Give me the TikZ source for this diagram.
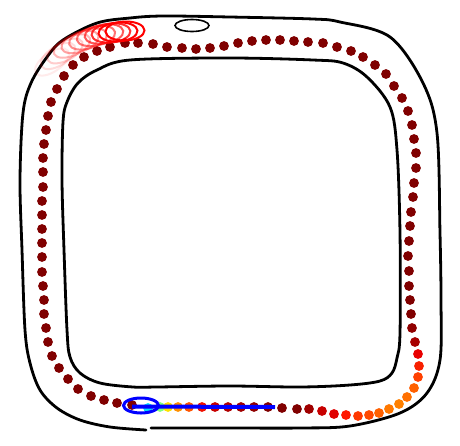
\documentclass[tikz,border=0pt]{standalone}
\usepackage{xcolor}
\definecolor{dr}{HTML}{800000}
\definecolor{blueline}{HTML}{0000FF}
\tikzset{
  track/.style={draw=black,line width=2.8pt,line cap=round,line join=round},
  ghost/.style={draw=red,line width=2pt},
}
\begin{document}
\begin{tikzpicture}[x=1pt,y=-1pt]
\useasboundingbox (0,0) rectangle (460,445);
\fill[white] (0,0) rectangle (460,445);
% outer boundary
\draw[track] plot[smooth,tension=0.55] coordinates {
(151,428) (230,428) (300,428) (350,426) (400,413) (427,393) (440,360) (441,300) (440,233) (437,133) (423,83) (390,37) (340,22) (313,19) (230,17) (163,16) (130,18) (97,23) (63,40) (47,57) (31,83) (23,113) (20,180) (22,250) (25,330) (30,363) (40,390) (57,408) (80,420) (110,427) (146,430)};
% inner boundary
\draw[track] plot[smooth cycle,tension=0.55] coordinates {
(157,387) (230,386) (300,387) (350,385) (380,381) (392,373) (397,358) (400,333) (400,233) (397,150) (390,107) (367,77) (343,63) (313,60) (230,58) (130,60) (97,70) (78,83) (67,102) (63,122) (62,180) (64,250) (67,330) (70,357) (80,373) (100,383) (133,387)};
% small ellipse at top
\draw[black,line width=1.6pt] (192,25.5) ellipse (17 and 6);
% dots, dark red
\foreach \x/\y in {
411/314,410/300,409/286,409/271,408/256,409/241,410/226,411/212,413/197,414/183,416/168,416/153,414/139,412/125,408/111,402/98,394/86,386/74,375/65,363/57,351/51,
337/47,323/43,308/42,294/41,280/40,266/40,252/41,238/43,224/46,210/48,196/49,182/48,167/47,153/44,138/43,125/43,110/47,97/51,84/57,73/65,64/76,57/89,51/102,48/116,46/130,44/144,43/158,43/172,43/187,42/201,42/215,42/229,42/243,42/257,42/272,43/286,44/300,44/314,46/328,48/342,52/356,59/368,68/379,78/389,91/396,104/400,117/403,132/405,
268/407,282/408,297/409}
  \fill[dr] (\x,\y) circle (4.9);
% coloured dots
\foreach \x/\y/\c in {
148/408/00E0FF,160/407/80FF80,168/407/FFE000,178/407/FF9000,189/407/FF5500,202/407/F01000,215/407/C80000,228/407/B00000,241/407/A00000,254/407/900000,
309/409/A00000,322/411/C80000,334/414/E00000,346/415/FF1800,358/416/FF3800,369/415/FF4800,379/413/FF6000,389/409/FF7800,399/404/FF8000,407/397/FF7000,414/388/FF6000,418/377/FF4000,419/366/F82000,418/354/E80000,415/342/A80000,412/328/900000}
  {\definecolor{tmpc}{HTML}{\c}\fill[tmpc] (\x,\y) circle (4.9);}
% fading red ellipses
\foreach \x/\y/\a/\o in {
52/62/35/0.08,58/56/32/0.14,65/51/28/0.2,72/46/24/0.28,80/42/20/0.36,88/39/16/0.45,96/36/12/0.55,104/34/9/0.65,111/33/6/0.8,118/32/4/1,125/31/2/1}
  \draw[ghost,draw opacity=\o,shift={(\x,\y)},rotate=\a] (0,0) ellipse (19.5 and 9.5);
% blue car and line
\draw[blueline,line width=4pt] (132,406.5) -- (275,407);
\draw[blueline,line width=3pt] (141,405.5) ellipse (17.5 and 7.5);
\end{tikzpicture}
\end{document}
